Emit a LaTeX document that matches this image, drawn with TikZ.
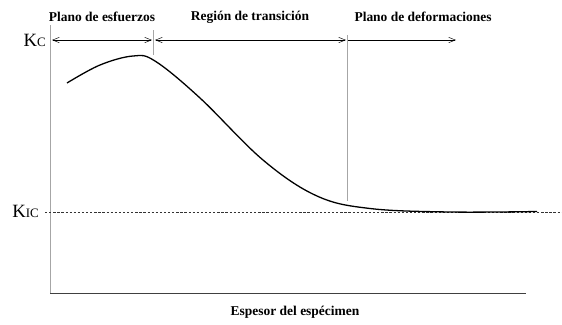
\documentclass[tikz,border=0pt]{standalone}
\usepackage{fontspec}
\setmainfont{Liberation Serif}
\usetikzlibrary{arrows.meta}

\begin{document}
\begin{tikzpicture}[x=0.03cm, y=-0.03cm]
\def\l{2mm}
\def\w{1.6mm}
\def\g{black!35}
\def\lbl{\fontsize{11.5}{13}\selectfont\bfseries}
\def\kf{\fontsize{16}{18}\selectfont}
\def\sf{\fontsize{11}{12}\selectfont}

\useasboundingbox (0,0) rectangle (562,324);

% ejes
\coordinate (o) at (50,293);
\coordinate (top) at (50,25);
\coordinate (xend) at (526,293);
\draw [\g, line width=0.8pt] (o) -- (top);
\draw [black!75, line width=0.8pt] (o) -- (xend);

% separadores de regiones
\coordinate (s1a) at (153,30);
\coordinate (s1b) at (153,55);
\coordinate (s2a) at (347,35);
\coordinate (s2b) at (347,201);
\draw [\g, line width=0.6pt] (s1a) -- (s1b);
\draw [\g, line width=0.6pt] (s2a) -- (s2b);

% flechas de regiones
\coordinate (a0) at (52,40);
\coordinate (a1) at (152,40);
\coordinate (a2) at (155,40);
\coordinate (a3) at (346,40);
\coordinate (a4) at (348,40);
\coordinate (a5) at (456,40);
\draw [{Straight Barb[length=\l, width=\w]}-{Straight Barb[length=\l, width=\w]}] (a0) to (a1);
\draw [{Straight Barb[length=\l, width=\w]}-{Straight Barb[length=\l, width=\w]}] (a2) to (a3);
\draw [-{Straight Barb[length=\l, width=\w]}] (a4) to (a5);

% etiquetas
\node [font=\lbl, name=t1] at (102,17) {Plano de esfuerzos};
\node [font=\lbl, name=t2] at (250,17) {Región de transición};
\node [font=\lbl, name=t3] at (423,17) {Plano de deformaciones};
\node [font=\lbl, name=xl] at (295,312) {Espesor del espécimen};
\node [anchor=base east, inner sep=0pt, name=kc] at (46,46) {\kf K{\sf C}};
\node [anchor=base east, inner sep=0pt, name=kic] at (39,217) {\kf K{\sf IC}};

% nivel KIC
\coordinate (d1) at (45,212);
\coordinate (d2) at (562,212);
\draw [dashed, dash pattern=on 2pt off 1.5pt, black!80, line width=0.5pt] (d1) -- (d2);

% curva
\draw [line width=1.1pt] plot [smooth, tension=0.6] coordinates {
  (67,83) (100,65) (133,56) (155,61) (200,98) (263,160)
  (317,196) (370,208.5) (450,212) (537,211.5)};
\end{tikzpicture}
\end{document}
